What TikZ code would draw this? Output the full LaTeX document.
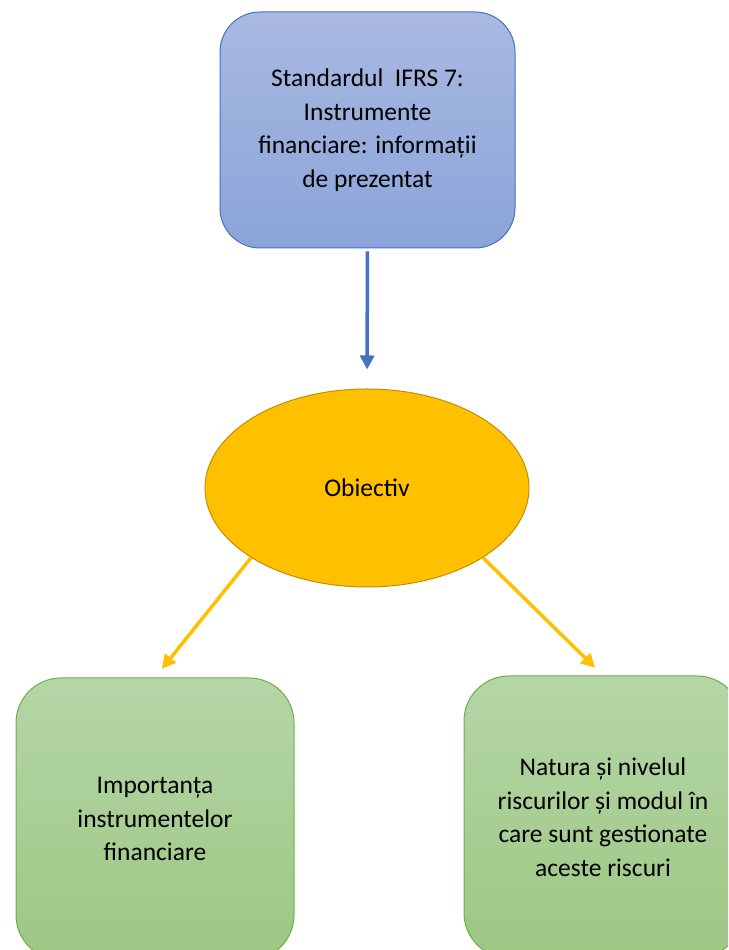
\documentclass[tikz,border=0pt]{standalone}
\usepackage{fontspec}
\setmainfont{Carlito}
\usepackage{tikz}
\usetikzlibrary{shapes.geometric,arrows.meta}

\definecolor{blueline}{HTML}{4472C4}
\definecolor{bluetop}{HTML}{A9B9E1}
\definecolor{bluebot}{HTML}{8AA4D9}
\definecolor{goldfill}{HTML}{FFC000}
\definecolor{goldline}{HTML}{BF9000}
\definecolor{greenline}{HTML}{70AD47}
\definecolor{greentop}{HTML}{B5D6A7}
\definecolor{greenbot}{HTML}{9DC783}

\begin{document}
\begin{tikzpicture}[x=1pt, y=1pt,
      font=\fontsize{25.5}{33.5}\selectfont,
      block_top/.style ={rectangle, rounded corners=40pt, draw=blueline,
        line width=1pt, top color=bluetop, bottom color=bluebot,
        minimum width=295pt, minimum height=236pt, inner sep=0pt,
        align=center},
      block_goal/.style ={ellipse, draw=goldline, line width=1pt,
        fill=goldfill, minimum width=324pt, minimum height=198pt,
        inner sep=0pt},
      block_leaf/.style ={rectangle, rounded corners=45pt, draw=greenline,
        line width=1pt, top color=greentop, bottom color=greenbot,
        minimum width=278pt, minimum height=282pt, inner sep=0pt,
        align=center},
      line_blue/.style ={draw=blueline, line width=3.5pt,
        -{Triangle[width=14pt,length=14pt]}},
      line_gold/.style ={draw=goldfill, line width=3.5pt,
        -{Triangle[width=14pt,length=14pt]}}]
    %
    \useasboundingbox (0,0) rectangle (728,950);
    \clip (0,0) rectangle (728,950);
    %
    % 1. placing the nodes
    \node [block_top] (ifrs) at (367.5,820)
      {Standardul\ \ IFRS 7:\\ Instrumente\\ financiare: informații\\ de prezentat};
    \node [block_goal] (obiectiv) at (367,462) {Obiectiv};
    \node [block_leaf] (importanta) at (155,131)
      {Importanța\\ instrumentelor\\ financiare};
    \node [block_leaf] (riscuri) at (603,133)
      {Natura și nivelul\\ riscurilor și modul în\\ care sunt gestionate\\ aceste riscuri};
    %
    % 2. connecting nodes with paths
    \path [line_blue, shorten <=3pt, shorten >=19pt] (ifrs) -- (obiectiv);
    \path [line_gold, shorten >=11pt] (obiectiv.211) -- (importanta.north);
    \path [line_gold, shorten >=11pt] (obiectiv.329) -- (riscuri.north);
  \end{tikzpicture}
\end{document}
